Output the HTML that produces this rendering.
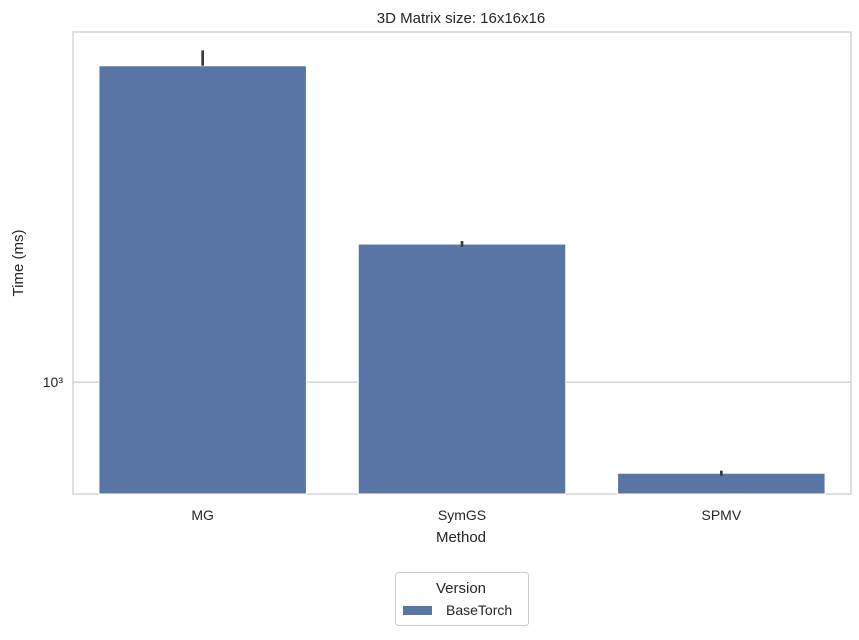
<!DOCTYPE html>
<html><head><meta charset="utf-8"><style>
body{margin:0;background:#fff;font-family:"Liberation Sans","DejaVu Sans",sans-serif;}
svg text{font-family:"Liberation Sans","DejaVu Sans",sans-serif;fill:#262626;}
</style></head><body>
<svg id="chart" width="859" height="635">
<rect x="73" y="32" width="778" height="462" fill="#fff" stroke="#ccc" stroke-width="1.2"/>
<g id="grid"></g><g id="bars"></g><g id="ticks"></g>
<text x="461" y="23" text-anchor="middle" font-size="15">3D Matrix size: 16x16x16</text>
<text x="461" y="542" text-anchor="middle" font-size="15">Method</text>
<text transform="translate(23,263) rotate(-90)" text-anchor="middle" font-size="15">Time (ms)</text>
<g>
<rect x="395.5" y="572.5" width="133" height="53" rx="3" fill="#fff" stroke="#ccc"/>
<text x="461" y="593" text-anchor="middle" font-size="15">Version</text>
<rect x="403" y="606" width="29" height="9" fill="#5875a4"/>
<text x="446" y="615" font-size="14">BaseTorch</text>
</g>
</svg>
<script>
const categories=["MG","SymGS","SPMV"];
const values=[3365,1698,705];
const errLow=[3365,1680,698];
const errHigh=[3570,1718,712];
const yTickValues=[1000];
const yTickLabels=["10³"];
const x0=73,x1=851,y0=32,y1=494;
const yMin=651,yMax=3830;
const NS="http://www.w3.org/2000/svg";
function y(v){return y1-(Math.log10(v)-Math.log10(yMin))/(Math.log10(yMax)-Math.log10(yMin))*(y1-y0);}
const band=(x1-x0)/categories.length;
function xc(i){return x0+band*(i+0.5);}
function mk(t,a,p){const e=document.createElementNS(NS,t);for(const k in a)e.setAttribute(k,a[k]);p.appendChild(e);return e;}
const g=document.getElementById('grid'),b=document.getElementById('bars'),tk=document.getElementById('ticks');
yTickValues.forEach((v,i)=>{
const l=mk('line',{x1:x0,x2:x1,y1:y(v),y2:y(v),stroke:'#ccc','stroke-width':1.2},g);


const t=mk('text',{x:x0-10,y:y(v)+5,'text-anchor':'end','font-size':14},tk);t.textContent=yTickLabels[i];


});
categories.forEach((c,i)=>{
const w=band*0.8,top=y(values[i]);
const r=mk('rect',{x:xc(i)-w/2,y:top,width:w,height:y1-top,fill:'#5875a4',stroke:'#fff','stroke-width':1},b);


const e=mk('line',{x1:xc(i),x2:xc(i),y1:y(errLow[i]),y2:y(errHigh[i]),stroke:'#3d3d3d','stroke-width':2.7},b);


const t=mk('text',{x:xc(i),y:y1+26,'text-anchor':'middle','font-size':14},tk);t.textContent=c;


});
</script>
</body></html>
